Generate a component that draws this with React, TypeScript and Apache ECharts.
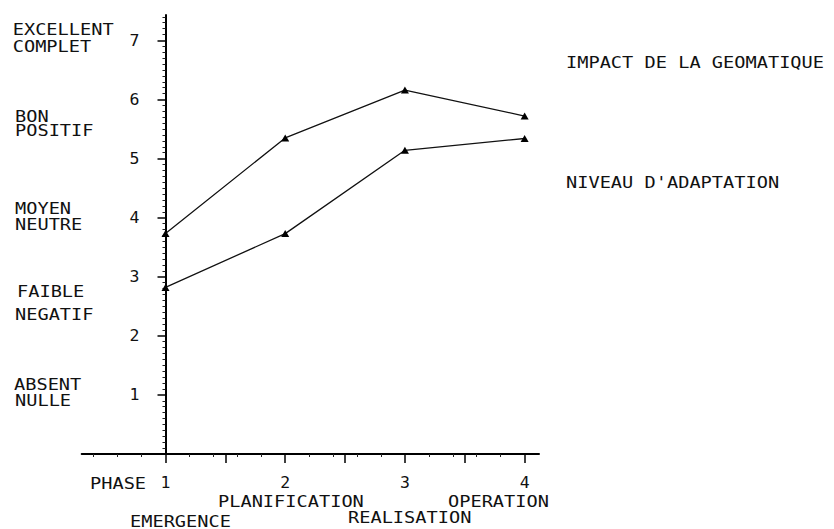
import React, { useEffect, useRef } from "react";
import * as echarts from "echarts";

// ---- data ----
const phases = [1, 2, 3, 4];
const impactGeomatique = [3.73, 5.35, 6.16, 5.72];
const niveauAdaptation = [2.82, 3.73, 5.14, 5.34];
const seriesNames = ["IMPACT DE LA GEOMATIQUE", "NIVEAU D'ADAPTATION"];
const yTickValues = [1, 2, 3, 4, 5, 6, 7];
const xTickValues = [1, 1.5, 2, 2.5, 3, 3.5, 4];
const xLabelValues = [1, 2, 3, 4];
const scaleWords = [
  "EXCELLENT", "COMPLET",
  "BON", "POSITIF",
  "MOYEN", "NEUTRE",
  "FAIBLE", "NEGATIF",
  "ABSENT", "NULLE",
];
const phaseWords = ["PHASE", "EMERGENCE", "PLANIFICATION", "REALISATION", "OPERATION"];

// ---- layout ----
const W = 834;
const H = 529;
const X_MIN = 0.3;
const X_MAX = 4.12;
const Y_MIN = 0;
const Y_MAX = 7.43;
const GRID_LEFT = 81.7;
const GRID_TOP = 15;
const GRID_W = 457.3;
const GRID_H = 439;
const Y_OFFSET = -((1 - X_MIN) / (X_MAX - X_MIN)) * GRID_W;
const FONT = "DejaVu Sans Mono";
const FS = 16.5;
const SX = 1.13;

const scalePos = [
  [12.7, 29], [12.7, 46],
  [15, 116], [15, 130.5],
  [15, 208], [15, 224],
  [17, 291], [15, 314],
  [14, 384.5], [15, 400],
];
const phasePos = [
  [90, 483.5], [130, 521], [218, 501.5], [348, 517.5], [448, 501.5],
];
const namePos = [[566, 62], [566, 182.5]];

function txt(text: string, x: number, y: number) {
  return {
    type: "text",
    x,
    y,
    scaleX: SX,
    silent: true,
    style: {
      text,
      fontFamily: FONT,
      fontSize: FS,
      fill: "#111",
      textAlign: "left",
      textVerticalAlign: "middle",
    },
  };
}

export default function App() {
  const ref = useRef<HTMLDivElement>(null);
  useEffect(() => {
    if (!ref.current) return;
    const chart = echarts.init(ref.current, undefined, { renderer: "svg" });
    const graphic: any[] = [];
    scaleWords.forEach((w, i) => graphic.push(txt(w, scalePos[i][0], scalePos[i][1])));
    phaseWords.forEach((w, i) => graphic.push(txt(w, phasePos[i][0], phasePos[i][1])));
    seriesNames.forEach((w, i) => graphic.push(txt(w, namePos[i][0], namePos[i][1])));

    const axisColor = "#000";
    chart.setOption({
      animation: false,
      backgroundColor: "#fff",
      grid: {
        left: GRID_LEFT,
        top: GRID_TOP,
        width: GRID_W,
        height: GRID_H,
        containLabel: false,
        outerBoundsMode: "none",
      },
      xAxis: [
        {
          type: "value",
          min: X_MIN,
          max: X_MAX,
          position: "bottom",
          axisLine: { show: true, onZero: false, lineStyle: { color: axisColor, width: 2 } },
          axisTick: { show: true, customValues: xTickValues, length: 9, lineStyle: { color: axisColor, width: 1.5 } },
          minorTick: { show: true, splitNumber: 5, length: 3, lineStyle: { color: "#222", width: 1 } },
          axisLabel: {
            show: true,
            customValues: xLabelValues,
            margin: 20,
            color: "#111",
            fontFamily: FONT,
            fontSize: FS,
            formatter: (v: number) => String(v),
          },
          splitLine: { show: false },
          minorSplitLine: { show: false },
        },
      ],
      yAxis: [
        {
          type: "value",
          min: Y_MIN,
          max: Y_MAX,
          position: "left",
          offset: Y_OFFSET,
          axisLine: { show: true, onZero: false, lineStyle: { color: axisColor, width: 2 } },
          axisTick: { show: true, customValues: yTickValues, length: 8, lineStyle: { color: axisColor, width: 1.5 } },
          minorTick: { show: true, splitNumber: 10, length: 3, lineStyle: { color: "#222", width: 1 } },
          axisLabel: {
            show: true,
            customValues: yTickValues,
            margin: 26,
            color: "#111",
            fontFamily: FONT,
            fontSize: FS,
            formatter: (v: number) => String(v),
          },
          splitLine: { show: false },
          minorSplitLine: { show: false },
        },
      ],
      series: [
        {
          name: seriesNames[0],
          type: "line",
          data: phases.map((p, i) => [p, impactGeomatique[i]]),
          symbol: "triangle",
          symbolSize: [8, 7],
          itemStyle: { color: "#000" },
          lineStyle: { color: "#111", width: 1.3 },
        },
        {
          name: seriesNames[1],
          type: "line",
          data: phases.map((p, i) => [p, niveauAdaptation[i]]),
          symbol: "triangle",
          symbolSize: [8, 7],
          itemStyle: { color: "#000" },
          lineStyle: { color: "#111", width: 1.3 },
        },
      ],
      graphic,
    });
    return () => chart.dispose();
  }, []);
  return (
    <div
      ref={ref}
      style={{ position: "fixed", left: 0, top: 0, width: W, height: H, background: "#fff" }}
    />
  );
}
